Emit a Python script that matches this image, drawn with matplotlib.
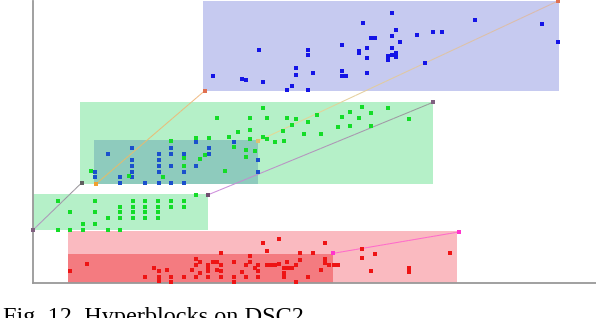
import numpy as np
import matplotlib.pyplot as plt
from matplotlib.collections import LineCollection
from matplotlib.colors import to_rgba

# hyperblocks: (x0, x1, y0, y1), fill colour
blocks = [
    ((170, 526, 192.3, 282), "#c6caf0"),   # blue class
    ((47, 400, 99, 181), "#b5f0c8"),       # green class, upper
    ((61, 225, 99, 143), "#8ecbbd"),       # blue inside green
    ((0, 175, 53, 89), "#b5f0c8"),         # green class, lower
    ((35, 424, 0, 52), "#fabac0"),         # red class, outer
    ((35, 300, 0, 29), "#f47b80"),         # red class, inner
]

# connecting lines between block corners: start, end, colour start, colour end
links = [
    ((0, 53), (49, 100.5), "#b88ac8", "#8c8c8c"),
    ((63, 99), (172, 192.5), "#e8bc60", "#f0b880"),
    ((175.3, 88.3), (400, 180.7), "#cc88dc", "#959595"),
    ((225, 142), (525, 282), "#e8d890", "#dcb8a8"),
    ((300.3, 29.7), (425.7, 51), "#ff66cc", "#ff66cc"),
]
link_marker_colors = [("#806080", "#606060"), ("#f0a030", "#e07050"),
                      ("#705070", "#806080"), ("#e0c070", "#e07050"),
                      ("#ff33cc", "#ff33cc")]

blue_top_x = [329.7, 337.7, 342.3, 225.7, 275.3, 308.7, 325.7, 325.7, 334, 275.3,
              334, 263.3, 179.7, 263.3, 280, 308.7, 308.7, 313.3, 334, 209,
              213.3, 230, 259, 254.3, 275.3, 358.7, 442, 508.7, 363.3, 400.3,
              408.7, 358.7, 384, 367.3, 525, 358.7, 363.3, 354.7, 358.7, 363.3,
              354.7, 392]
blue_top_y = [260.3, 245.3, 245.3, 233.3, 233.3, 238.3, 232.5, 229.7, 234.7, 227.7,
              225.3, 215, 207, 208.3, 210.3, 212.3, 207, 207, 209.7, 204,
              202.7, 200.7, 197.3, 192.7, 192.7, 270, 262.7, 259.3, 253.3, 251.3,
              251.3, 246.7, 248, 241.3, 240.7, 234.7, 230, 227.3, 228, 226.3,
              222.7, 219.7]

blue_mid_x = [163.3, 200.7, 99.3, 138.3, 175.7, 75, 125.7, 138.3, 151, 175.7,
              99.3, 125.7, 225, 99.3, 125.7, 138.3, 163, 62.3, 99.3, 125.7,
              151, 225, 62.3, 87.3, 99.3, 87.3, 112.3, 125.7, 138.3, 151]
blue_mid_y = [141, 141, 134.7, 134.7, 134.7, 128.7, 128.7, 128.7, 128.7, 128.7,
              123.3, 123.3, 123.3, 117.3, 117.3, 117.3, 117.3, 111.3, 111.3, 111.3,
              111.3, 111.3, 105.7, 105.7, 105.7, 99.7, 99.7, 99.7, 99.7, 99.7]

green_mid_x = [183.7, 217.3, 233.7, 254.3, 263.3, 230, 204.7, 217.3, 196.3, 163,
               175.7, 217.3, 138.3, 230, 234, 242.3, 250.7, 250.3, 259, 200.7,
               213.3, 221.7, 151, 171.7, 167.3, 213.3, 151, 58.3, 192.3, 95.7,
               130.3, 329.3, 354.7, 317, 337.7, 284.3, 308.7, 325.7, 375.7, 275.3,
               305, 317, 337.7, 271.3, 288]
green_mid_y = [165, 165, 165, 165, 164, 175, 151.3, 153.3, 146.3, 145,
               145.3, 144, 141.7, 146, 144, 140.7, 141.7, 152.5, 158, 136,
               133.3, 132, 125, 127.7, 124, 126.3, 117, 112.3, 112, 107,
               106, 175.7, 174.7, 171, 170, 167.7, 166.3, 165, 164, 161.3,
               156, 157, 157, 149, 149]

green_low_x = [25, 62.3, 99.7, 112.3, 125.3, 138.3, 150.7,
               87, 99.7, 112.3, 125.3, 138.3, 150.7,
               37.3, 62.3, 87, 99.7, 112.3, 125.3,
               74.7, 87, 99.7, 112.3, 125.3,
               49.7, 62.3,
               25, 37.3, 49.7, 74.7, 87, 162.7]
green_low_y = [82.3] * 7 + [76] * 6 + [70.7] * 6 + [64.7] * 5 + [59] * 2 + [53.3] * 5 + [88.3]

red_x = [230, 188.3, 217.3, 163, 167.3, 180, 184, 201, 54, 163,
         175.3, 188.3, 213.3, 217.3, 225.3, 121.3, 175.3, 221.7, 134, 159,
         184, 126, 188.3, 175.3, 225.3, 37.3, 167.3, 209,
         112.3, 126, 138, 150.7, 163, 175.3, 188.3, 201, 213.3, 225.3,
         126, 138, 201, 233.7, 246.3, 292.3, 267, 279.7, 329.3, 342.3,
         417.3, 267, 292.3, 254.3, 292.3, 329.3, 233.7, 238.3, 242.3, 246.3,
         259, 263.3, 250.7, 254.7, 296.3, 300.7, 305, 287.7, 250.7, 337.7,
         375.7, 375.7, 250.7, 275.3, 263.3]
red_y = [40.3, 29.7, 27.3, 23.7, 21.3, 20.7, 20.7, 21.3, 19.3, 18,
         18, 18, 18, 20.7, 18, 15.3, 15.3, 15.3, 13.3, 13.3,
         13.3, 12, 12, 12, 12, 12, 10, 10.7,
         6, 6, 6, 6, 6, 6, 6, 6, 6, 6,
         1.7, 0.7, 0.7, 32, 43.7, 39.7, 29.7, 29.7, 34.3, 28.7,
         29.7, 22.7, 24, 21.3, 20.3, 24.7, 18, 18, 18, 19.3,
         15.3, 18, 15.3, 15.3, 18, 18, 18, 13.3, 10, 12,
         15.3, 10.7, 6, 6, 0.7]


def gradient_line(ax, p0, p1, c0, c1, n=40):
    xs = np.linspace(p0[0], p1[0], n + 1)
    ys = np.linspace(p0[1], p1[1], n + 1)
    segs = np.stack([np.column_stack([xs[:-1], ys[:-1]]),
                     np.column_stack([xs[1:], ys[1:]])], axis=1)
    a, b = np.array(to_rgba(c0)), np.array(to_rgba(c1))
    cols = [a + (b - a) * t for t in np.linspace(0, 1, n)]
    ax.add_collection(LineCollection(segs, colors=cols, linewidths=0.7, zorder=3))


fig = plt.figure(figsize=(5.96, 3.18), dpi=100)
ax = fig.add_axes([33 / 596, 35 / 318, 563 / 596, 282 / 318])

for (x0, x1, y0, y1), col in blocks:
    ax.fill_between([x0, x1], y0, y1, color=col, lw=0, zorder=1)

for (p0, p1, c0, c1), (m0, m1) in zip(links, link_marker_colors):
    gradient_line(ax, p0, p1, c0, c1)
    ax.scatter([p0[0]], [p0[1]], s=6, marker="s", color=m0, lw=0, zorder=4, clip_on=False)
    ax.scatter([p1[0]], [p1[1]], s=6, marker="s", color=m1, lw=0, zorder=4, clip_on=False)

pt = dict(s=5.5, marker="s", lw=0, zorder=5, clip_on=False)
ax.scatter(blue_top_x, blue_top_y, color="#1414e6", **pt)
ax.scatter(blue_mid_x, blue_mid_y, color="#1a50cc", **pt)
ax.scatter(green_mid_x, green_mid_y, color="#14dc28", **pt)
ax.scatter(green_low_x, green_low_y, color="#14dc28", **pt)
ax.scatter(red_x, red_y, color="#ee1414", **pt)

ax.set_xlim(0, 563)
ax.set_ylim(0, 282)
ax.set_xticks([])
ax.set_yticks([])
for side in ["top", "right"]:
    ax.spines[side].set_visible(False)
for side in ["left", "bottom"]:
    ax.spines[side].set_color("#999999")
    ax.spines[side].set_linewidth(1.3)

fig.text(3 / 596, -5.5 / 318, "Fig. 12. Hyperblocks on DSC2", fontsize=17.5,
         family="Liberation Serif", ha="left", va="baseline")

fig.savefig("out.png", dpi=100)
